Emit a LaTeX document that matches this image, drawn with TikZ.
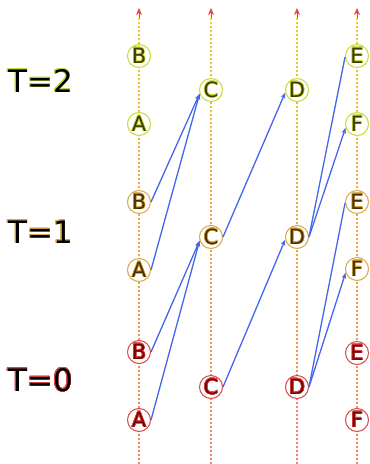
\documentclass[tikz,border=0pt]{standalone}
\usepackage{fontspec}
\setmainfont{DejaVu Sans}
\usepackage{contour}
\contourlength{0.5pt}
\contournumber{24}
\usetikzlibrary{arrows.meta}
\pgfdeclarelayer{background}
\pgfsetlayers{background,main}
\definecolor{ygreen}{HTML}{C8D838}
\definecolor{goldring}{HTML}{D8A848}
\definecolor{redring}{HTML}{D84848}
\definecolor{olivetext}{HTML}{3C3C00}
\definecolor{browntext}{HTML}{4A3000}
\definecolor{redtext}{HTML}{800000}
\definecolor{arrowblue}{HTML}{4466EE}
\definecolor{axbot}{HTML}{F08060}
\definecolor{axtop}{HTML}{F0C830}
\definecolor{axtip}{HTML}{F04040}
\newcommand{\lettwo}[1]{\contour{ygreen}{\textcolor{olivetext}{#1}}}
\newcommand{\letone}[1]{\contour{goldring}{\textcolor{browntext}{#1}}}
\newcommand{\letzero}[1]{\contour{redring}{\textcolor{redtext}{#1}}}
\begin{document}
\begin{tikzpicture}[x=1pt,y=-1pt,
  stbase/.style={circle, line width=1pt, fill=white, minimum size=23pt, inner sep=0pt, font=\fontsize{21}{21}\selectfont},
  sttwo/.style={stbase, draw=ygreen},
  stone/.style={stbase, draw=goldring},
  stzero/.style={stbase, draw=redring},
  tlabel/.style={anchor=west, inner sep=0pt, font=\fontsize{31}{31}\selectfont},
  conn/.style={draw=arrowblue, line width=1.3pt, -{Stealth[length=6pt,width=4.5pt]}},
  connplain/.style={draw=arrowblue, line width=1.3pt},
  axis/.style={line width=1.3pt, dash pattern=on 1.6pt off 2.4pt}]
\useasboundingbox (0,0) rectangle (370,464);

% time labels
\node[tlabel] (T2) at (8,81) {\contour{ygreen}{\textcolor{black}{T=2}}};
\node[tlabel] (T1) at (8,232) {\contour{goldring}{\textcolor{black}{T=1}}};
\node[tlabel] (T0) at (8,380) {\contour{redring}{\textcolor{black}{T=0}}};

% T=0
\node[stzero] (A0) at (139,420) {\letzero{A}};
\node[stzero] (B0) at (139,352) {\letzero{B}};
\node[stzero] (C0) at (211,387) {\letzero{C}};
\node[stzero] (D0) at (297,387) {\letzero{D}};
\node[stzero] (E0) at (357,353) {\letzero{E}};
\node[stzero] (F0) at (357,420) {\letzero{F}};
% T=1
\node[stone] (A1) at (139,270) {\letone{A}};
\node[stone] (B1) at (139,202) {\letone{B}};
\node[stone] (C1) at (211,237) {\letone{C}};
\node[stone] (D1) at (297,237) {\letone{D}};
\node[stone] (E1) at (357,202) {\letone{E}};
\node[stone] (F1) at (357,269) {\letone{F}};
% T=2
\node[sttwo] (A2) at (139,124) {\lettwo{A}};
\node[sttwo] (B2) at (139,56) {\lettwo{B}};
\node[sttwo] (C2) at (211,90) {\lettwo{C}};
\node[sttwo] (D2) at (297,90) {\lettwo{D}};
\node[sttwo] (E2) at (357,56) {\lettwo{E}};
\node[sttwo] (F2) at (357,124) {\lettwo{F}};

% axes
\begin{pgfonlayer}{background}
\foreach \xx in {139,211,297,357}{
  \foreach \i in {0,...,55}{
    \pgfmathsetmacro\pct{100*\i/55}
    \draw[axis, draw=axtop!\pct!axbot] (\xx,464-8*\i) -- (\xx,456-8*\i);
  }
  \coordinate (tipbase\xx) at (\xx,18);
  \coordinate (tiptop\xx) at (\xx,8);
  \draw[axtip, line width=0.8pt, -{Stealth[length=7pt,width=6pt]}] (tipbase\xx) -- (tiptop\xx);
}
\end{pgfonlayer}

% transitions T0 -> T1
\draw[conn] (A0.east) -- (C1.198);
\draw[conn] (B0.east) -- (C1.198);
\draw[conn] (C0.east) -- (D1.192);
\draw[connplain] (D0.east) -- (E1.185);
\draw[conn] (D0.east) -- (F1.198);
% transitions T1 -> T2
\draw[conn] (A1.east) -- (C2.198);
\draw[conn] (B1.east) -- (C2.198);
\draw[conn] (C1.east) -- (D2.192);
\draw[connplain] (D1.east) -- (E2.185);
\draw[conn] (D1.east) -- (F2.198);
\end{tikzpicture}
\end{document}
